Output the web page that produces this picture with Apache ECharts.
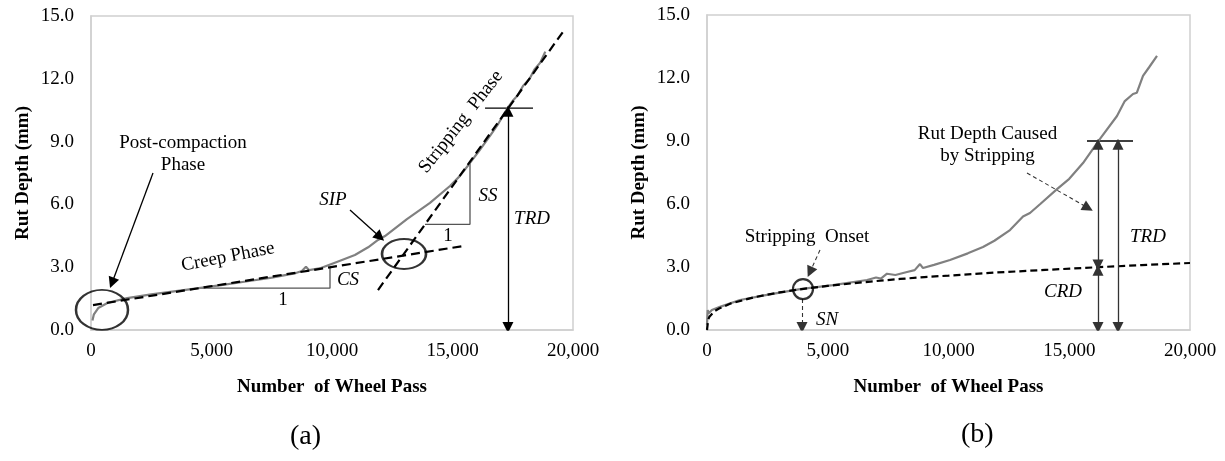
<!DOCTYPE html>
<html><head><meta charset="utf-8">
<script src="https://cdn.jsdelivr.net/npm/echarts@6/dist/echarts.min.js"></script>
<style>html,body{margin:0;padding:0;background:#fff}#c{width:1225px;height:461px}</style>
</head><body><div id="c"></div>
<script>
// ---- tick values / labels ----
const xTicks = [0, 5000, 10000, 15000, 20000];
const xTickLabels = ['0', '5,000', '10,000', '15,000', '20,000'];
const yTicks = [0, 3, 6, 9, 12, 15];
const yTickLabels = ['0.0', '3.0', '6.0', '9.0', '12.0', '15.0'];

// ---- panel (a) ----
const measuredA = [[60,0.45],[120,0.75],[300,1.05],[700,1.3],[1500,1.52],[2500,1.7],[4000,1.93],[5400,2.14],[6500,2.33],[7500,2.5],[8500,2.72],[8750,2.82],[8920,3.02],[9050,2.86],[9540,2.96],[10200,3.25],[10950,3.58],[11500,3.95],[11909,4.3],[12200,4.49],[13110,5.3],[14066,6.07],[14896,6.88],[15300,7.35],[15726,7.98],[16100,8.55],[16556,9.27],[16900,9.85],[17261,10.56],[17500,10.95],[17700,11.2],[17925,11.66],[18200,12.0],[18400,12.45],[18630,12.75],[18850,13.3]];
const creepFitA = [[83,1.19],[15436,4.01]];
const stripFitA = [[11909,1.91],[19670,14.38]];
const csTriangle = [[4460,2.0],[9917,2.0],[9917,2.97]];
const ssTriangle = [[13860,5.05],[15726,5.05],[15726,8.05]];
const trdCapA = [[16350,10.6],[18340,10.6]];
const arrowsOneA = [[[2573,7.5],[871,2.25]], [[10747,5.73],[11992,4.44]]];
const arrowsTwoA = [[[17300,10.45],[17300,0.12]]];
const ellipseBigA = [[456,0.96]];
const ellipseSipA = [[12988,3.63]];
const textsA = [
  {t:'Post-compaction\nPhase', p:[3817,8.41], r:0},
  {t:'Creep Phase', p:[5685,3.49], r:11},
  {t:'Stripping  Phase', p:[15353,9.94], r:52},
  {t:'SIP', p:[10041,6.21], r:0, it:true},
  {t:'CS', p:[10664,2.39], r:0, it:true},
  {t:'1', p:[7967,1.43], r:0},
  {t:'SS', p:[16473,6.4], r:0, it:true},
  {t:'1', p:[14813,4.49], r:0},
  {t:'TRD', p:[18299,5.3], r:0, it:true}
];

// ---- panel (b) ----
const measuredB = [[0,0.25],[30,0.95],[70,0.8],[200,0.95],[538,1.1],[1366,1.43],[2484,1.67],[3851,1.95],[5217,2.14],[6625,2.38],[7000,2.5],[7200,2.45],[7453,2.68],[7800,2.62],[8282,2.76],[8600,2.85],[8820,3.14],[8944,2.95],[9400,3.1],[10062,3.33],[10800,3.65],[11428,3.95],[11900,4.25],[12546,4.76],[13085,5.4],[13374,5.57],[13800,6.0],[14493,6.71],[15000,7.2],[15570,7.95],[16273,9.1],[16977,10.19],[17300,10.9],[17640,11.24],[17800,11.3],[18054,12.1],[18300,12.5],[18634,13.05]];
const creepFitB = [[0,0],[50,0.5],[100,0.63],[300,0.89],[500,1.02],[1000,1.27],[2000,1.57],[3000,1.79],[4000,1.96],[5000,2.1],[6000,2.22],[7000,2.33],[8000,2.43],[9000,2.52],[10000,2.59],[12000,2.74],[14000,2.86],[16000,2.98],[18000,3.09],[20000,3.19]];
const trdCapB = [[15735,9.0],[17640,9.0]];
const arrowsTwoB = [[[16190,8.85],[16190,3.1]], [[16190,2.85],[16190,0.12]], [[17019,8.85],[17019,0.12]]];
const dashArrowsB = [[[4679,3.81],[4265,2.76]], [[3934,1.48],[3934,0.12]], [[13250,7.48],[15776,5.81]]];
const onsetCircleB = [[3975,1.95]];
const textsB = [
  {t:'Stripping  Onset', p:[4140,4.43], r:0},
  {t:'SN', p:[4969,0.48], r:0, it:true},
  {t:'Rut Depth Caused\nby Stripping', p:[11615,8.81], r:0},
  {t:'TRD', p:[18261,4.43], r:0, it:true},
  {t:'CRD', p:[14741,1.81], r:0, it:true}
];

const SERIF = "'Liberation Serif','Times New Roman',serif";
const GRAY = '#808080';
const chart = echarts.init(document.getElementById('c'), null, {renderer:'canvas'});

function xAx(gi){
  return {gridIndex:gi, type:'value', min:0, max:20000, interval:5000,
    axisLine:{lineStyle:{color:'#d0d0d0', width:1.5}}, axisTick:{show:false}, splitLine:{show:false},
    axisLabel:{formatter:v=>xTickLabels[xTicks.indexOf(v)], fontFamily:SERIF, fontSize:19, color:'#000', margin:12},
    name:'Number  of Wheel Pass', nameLocation:'middle', nameGap:48,
    nameTextStyle:{fontFamily:SERIF, fontWeight:'bold', fontSize:19, color:'#000'}};
}
function yAx(gi){
  return {gridIndex:gi, type:'value', min:0, max:15, interval:3,
    axisLine:{show:true, lineStyle:{color:'#d0d0d0', width:1.5}}, axisTick:{show:false}, splitLine:{show:false},
    axisLabel:{formatter:v=>yTickLabels[yTicks.indexOf(v)], fontFamily:SERIF, fontSize:19, color:'#000', margin:17},
    name:'Rut Depth (mm)', nameLocation:'middle', nameGap:58,
    nameTextStyle:{fontFamily:SERIF, fontWeight:'bold', fontSize:19, color:'#000'}};
}
function ln(gi, data, color, width, type, z){
  return {type:'line', xAxisIndex:gi, yAxisIndex:gi, data, showSymbol:false, symbol:'none', silent:true,
    lineStyle:{color, width, type}, z:z||2, animation:false};
}
function arrows(gi, segs, symbols, color, width, type){
  return {type:'lines', coordinateSystem:'cartesian2d', xAxisIndex:gi, yAxisIndex:gi, silent:true, animation:false,
    symbol:symbols, symbolSize:11, z:6,
    lineStyle:{color, width, type, opacity:1, curveness:0},
    data:segs.map(s=>({coords:s}))};
}
function ell(gi, data, size, bw){
  return {type:'scatter', xAxisIndex:gi, yAxisIndex:gi, data, symbol:'circle', symbolSize:size, silent:true, clip:false, animation:false, z:7,
    itemStyle:{color:'rgba(0,0,0,0)', borderColor:'#000', borderWidth:bw}};
}

chart.setOption({
  animation:false,
  grid:[
    {left:91, top:16, width:482, height:314, show:true, borderColor:'#d0d0d0', borderWidth:1.5},
    {left:707, top:15, width:483, height:315, show:true, borderColor:'#d0d0d0', borderWidth:1.5}
  ],
  xAxis:[xAx(0), xAx(1)],
  yAxis:[yAx(0), yAx(1)],
  series:[
    ln(0, measuredA, GRAY, 2.2, 'solid', 3),
    ln(0, creepFitA, '#000', 2.2, [9,5], 4),
    ln(0, stripFitA, '#000', 2.2, [9,5], 4),
    ln(0, csTriangle, '#555', 1.3, 'solid', 2),
    ln(0, ssTriangle, '#555', 1.3, 'solid', 2),
    ln(0, trdCapA, '#000', 1.3, 'solid', 2),
    arrows(0, arrowsOneA, ['none','triangle'], '#000', 1.3, 'solid'),
    arrows(0, arrowsTwoA, ['triangle','triangle'], '#000', 1.3, 'solid'),
    ell(0, ellipseBigA, [52,40], 2.2),
    ell(0, ellipseSipA, [44,30], 2.2),

    ln(1, measuredB, GRAY, 2.2, 'solid', 3),
    ln(1, creepFitB, '#000', 2.2, [7,4], 4),
    ln(1, trdCapB, '#000', 1.3, 'solid', 2),
    arrows(1, arrowsTwoB, ['triangle','triangle'], '#333', 1.3, 'solid'),
    arrows(1, dashArrowsB, ['none','triangle'], '#333', 1.1, [4,3]),
    ell(1, onsetCircleB, 20, 2.2)
  ]
});

function txt(gi, o){
  const p = chart.convertToPixel({xAxisIndex:gi, yAxisIndex:gi}, o.p);
  return {type:'text', x:p[0], y:p[1], rotation:(o.r||0)*Math.PI/180, silent:true, z:10,
    style:{text:o.t, x:0, y:0, align:'center', verticalAlign:'middle', fill:'#000',
      fontFamily:SERIF, fontSize:19, fontStyle:o.it?'italic':'normal', lineHeight:22}};
}
const g = [];
textsA.forEach(o=>g.push(txt(0,o)));
textsB.forEach(o=>g.push(txt(1,o)));
g.push({type:'text', left:290, top:423, style:{text:'(a)', fontFamily:SERIF, fontSize:28, fill:'#000'}});
g.push({type:'text', left:961, top:421, style:{text:'(b)', fontFamily:SERIF, fontSize:28, fill:'#000'}});
chart.setOption({graphic:g});
</script></body></html>
